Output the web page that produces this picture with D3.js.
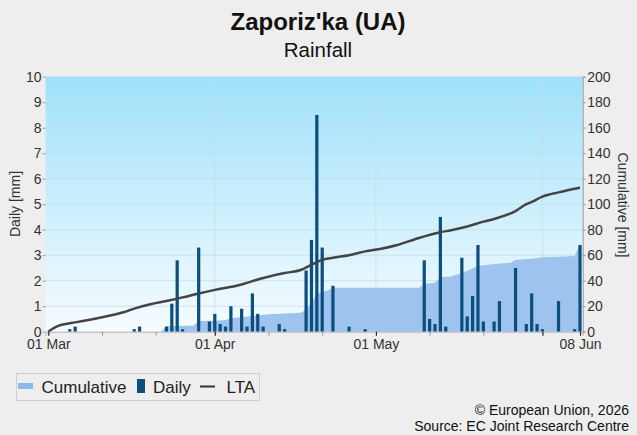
<!DOCTYPE html>
<html>
<head>
<meta charset="utf-8">
<script src="https://cdn.jsdelivr.net/npm/d3@7"></script>
<style>
  html, body { margin: 0; padding: 0; background: #eeeeee; }
  text { font-family: "Liberation Sans", Arial, sans-serif; }
</style>
</head>
<body>
<div id="chart"></div>
<script>
// daily rainfall [mm]
const dailyDates = [
  "2026-03-05", "2026-03-06", "2026-03-17", "2026-03-18", "2026-03-23", "2026-03-24",
  "2026-03-25", "2026-03-26", "2026-03-29", "2026-03-31", "2026-04-01", "2026-04-02",
  "2026-04-03", "2026-04-04", "2026-04-06", "2026-04-07", "2026-04-08", "2026-04-09",
  "2026-04-10", "2026-04-13", "2026-04-14", "2026-04-18", "2026-04-19", "2026-04-20",
  "2026-04-21", "2026-04-23", "2026-04-26", "2026-04-29", "2026-05-10", "2026-05-11",
  "2026-05-12", "2026-05-13", "2026-05-14", "2026-05-17", "2026-05-18", "2026-05-19",
  "2026-05-20", "2026-05-21", "2026-05-23", "2026-05-24", "2026-05-27", "2026-05-29",
  "2026-05-30", "2026-05-31", "2026-06-01", "2026-06-04", "2026-06-07", "2026-06-08"
];
const dailyValues = [
  0.1, 0.2, 0.1, 0.2, 0.2, 1.1,
  2.8, 0.1, 3.3, 0.4, 0.7, 0.3,
  0.2, 1.0, 0.9, 0.2, 1.5, 0.7,
  0.2, 0.3, 0.1, 2.4, 3.6, 8.5,
  3.3, 1.8, 0.2, 0.1, 2.8, 0.5,
  0.3, 4.5, 0.2, 2.9, 0.6, 1.4,
  3.4, 0.4, 0.4, 1.2, 2.5, 0.3,
  1.5, 0.3, 0.1, 1.2, 0.1, 3.4
];

// cumulative rainfall [mm], as drawn
const cumDates = [
  "2026-03-01", "2026-03-22", "2026-03-23", "2026-03-28", "2026-03-29", "2026-04-01",
  "2026-04-03", "2026-04-04", "2026-04-11", "2026-04-15", "2026-04-17", "2026-04-18",
  "2026-04-19", "2026-04-20", "2026-04-22", "2026-04-23", "2026-05-09", "2026-05-10",
  "2026-05-12", "2026-05-13", "2026-05-15", "2026-05-17", "2026-05-18", "2026-05-20",
  "2026-05-23", "2026-05-26", "2026-05-27", "2026-05-30", "2026-06-01", "2026-06-04",
  "2026-06-07", "2026-06-08"
];
const cumValues = [
  0, 0, 4.5, 4.7, 8.4, 8.6,
  9.2, 10.5, 13.6, 14.4, 14.9, 17.5,
  22, 30, 32.4, 34.5, 34.5, 37.4,
  38.4, 42.7, 43.2, 46, 47.8, 51.5,
  53.1, 54.1, 56.2, 57.3, 58.4, 58.8,
  59.4, 68.8
];

// long term average cumulative [mm]
const ltaDates = [
  "2026-03-01", "2026-03-02", "2026-03-03", "2026-03-04", "2026-03-06", "2026-03-11",
  "2026-03-15", "2026-03-17", "2026-03-20", "2026-03-23", "2026-03-26", "2026-03-29",
  "2026-04-01", "2026-04-06", "2026-04-08", "2026-04-14", "2026-04-17", "2026-04-19",
  "2026-04-21", "2026-04-23", "2026-04-26", "2026-04-29", "2026-05-02", "2026-05-05",
  "2026-05-09", "2026-05-13", "2026-05-15", "2026-05-18", "2026-05-21", "2026-05-23",
  "2026-05-27", "2026-05-29", "2026-05-30", "2026-06-01", "2026-06-04", "2026-06-08"
];
const ltaValues = [
  0, 2.8, 4.8, 5.8, 7.3, 11.4,
  15.2, 18.1, 21.5, 24.1, 26.9, 30,
  32.8, 37, 39.7, 46, 48.4, 52.5,
  56.3, 58, 60, 63, 65.1, 68,
  73.5, 78, 79.6, 82.5, 86.3, 88.4,
  94.6, 100, 101.8, 105.9, 109.3, 112.9
];

// axis ticks
const xLabelDates = ["2026-03-01", "2026-04-01", "2026-05-01", "2026-06-08"];
const xMajorTickDates = ["2026-03-01", "2026-04-01", "2026-05-01", "2026-06-01", "2026-06-08"];
const xMinorTickDates = ["2026-03-11", "2026-03-21", "2026-04-11", "2026-04-21", "2026-05-11", "2026-05-21"];
const xGridDates = ["2026-04-01", "2026-05-01", "2026-06-01"];
const dailyTicks = [0, 1, 2, 3, 4, 5, 6, 7, 8, 9, 10];
const cumTicks = [0, 20, 40, 60, 80, 100, 120, 140, 160, 180, 200];

const legendItems = ["Cumulative", "Daily", "LTA"];

const parse = d3.timeParse("%Y-%m-%d");
const fmt = d3.timeFormat("%d %b");

const width = 637, height = 435;
const plot = { left: 45.6, right: 582.7, top: 76.7, bottom: 331.7 };

const svg = d3.select("#chart").append("svg")
  .attr("width", width)
  .attr("height", height);

svg.append("rect")
  .attr("width", width).attr("height", height)
  .attr("fill", "#eeeeee");

const defs = svg.append("defs");
const grad = defs.append("linearGradient")
  .attr("id", "bg").attr("x1", 0).attr("y1", 0).attr("x2", 0).attr("y2", 1);
grad.append("stop").attr("offset", "0%").attr("stop-color", "#9fe1fb");
grad.append("stop").attr("offset", "100%").attr("stop-color", "#f6fcff");

// scales
const start = d3.timeHour.offset(parse("2026-03-01"), -12);
const end = d3.timeHour.offset(parse("2026-06-08"), 12);
const x = d3.scaleTime().domain([start, end]).range([plot.left, plot.right]);
const yDaily = d3.scaleLinear().domain([0, 10]).range([plot.bottom, plot.top]);
const yCum = d3.scaleLinear().domain([0, 200]).range([plot.bottom, plot.top]);
const dayW = x(parse("2026-03-02")) - x(parse("2026-03-01"));

// title
svg.append("text")
  .attr("x", 318).attr("y", 30)
  .attr("text-anchor", "middle")
  .attr("font-size", 24).attr("font-weight", "bold")
  .attr("fill", "#111")
  .text("Zaporiz'ka (UA)");
svg.append("text")
  .attr("x", 318).attr("y", 57)
  .attr("text-anchor", "middle")
  .attr("font-size", 20.5)
  .attr("fill", "#111")
  .text("Rainfall");

// plot background
svg.append("rect")
  .attr("x", plot.left).attr("y", plot.top)
  .attr("width", plot.right - plot.left).attr("height", plot.bottom - plot.top)
  .attr("fill", "url(#bg)");

// grid
const grid = svg.append("g").attr("class", "grid");
grid.selectAll("line.h")
  .data(dailyTicks.slice(1))
  .join("line")
  .attr("class", "h")
  .attr("x1", plot.left).attr("x2", plot.right)
  .attr("y1", d => yDaily(d)).attr("y2", d => yDaily(d))
  .attr("stroke", "#c9dce6").attr("stroke-opacity", 0.8).attr("stroke-width", 1);
grid.selectAll("line.v")
  .data(xGridDates)
  .join("line")
  .attr("class", "v")
  .attr("x1", d => x(parse(d))).attr("x2", d => x(parse(d)))
  .attr("y1", plot.top).attr("y2", plot.bottom)
  .attr("stroke", "#c9dce6").attr("stroke-opacity", 0.8).attr("stroke-width", 1);

// cumulative area
const cumData = cumDates.map((d, i) => ({ date: parse(d), value: cumValues[i] }));
svg.append("path")
  .datum(cumData)
  .attr("fill", "#9dc3ee")
  .attr("d", d3.area()
    .x(d => x(d.date))
    .y0(yCum(0))
    .y1(d => yCum(d.value)));

// daily bars
const dailyData = dailyDates.map((d, i) => ({ date: parse(d), value: dailyValues[i] }));
const barW = dayW * 0.6;
svg.append("g")
  .selectAll("rect")
  .data(dailyData)
  .join("rect")
  .attr("x", d => x(d.date) - barW / 2)
  .attr("y", d => yDaily(d.value))
  .attr("width", barW)
  .attr("height", d => yDaily(0) - yDaily(d.value))
  .attr("fill", "#0c4f7e");

// LTA line
const ltaData = ltaDates.map((d, i) => ({ date: parse(d), value: ltaValues[i] }));
svg.append("path")
  .datum(ltaData)
  .attr("fill", "none")
  .attr("stroke", "#444444")
  .attr("stroke-width", 2.5)
  .attr("stroke-linejoin", "round")
  .attr("d", d3.line()
    .x(d => x(d.date))
    .y(d => yCum(d.value))
    .curve(d3.curveMonotoneX));

// x axis
const gx = svg.append("g").attr("transform", `translate(0,${plot.bottom})`);
gx.call(d3.axisBottom(x).tickValues(xMinorTickDates.map(parse)).tickSize(4).tickFormat(""))
  .call(g => g.selectAll(".tick line").attr("stroke", "#9a9a9a"))
  .call(g => g.select(".domain").attr("stroke", "#b5b5b5"));
const gxMajor = svg.append("g").attr("transform", `translate(0,${plot.bottom})`);
gxMajor.call(d3.axisBottom(x).tickValues(xMajorTickDates.map(parse)).tickSize(4).tickFormat(""))
  .call(g => g.select(".domain").remove())
  .call(g => g.selectAll(".tick line").attr("stroke", "#222").attr("stroke-width", 1.2));
const gxLabels = svg.append("g").attr("transform", `translate(0,${plot.bottom})`);
gxLabels.call(d3.axisBottom(x).tickValues(xLabelDates.map(parse)).tickSize(0).tickPadding(7.5).tickFormat(fmt))
  .call(g => g.select(".domain").remove())
  .call(g => g.selectAll("text")
    .attr("font-size", 14)
    .attr("font-family", "Liberation Sans, Arial, sans-serif")
    .attr("fill", "#333"));

// left axis
const gyL = svg.append("g").attr("transform", `translate(${plot.left},0)`);
gyL.call(d3.axisLeft(yDaily).tickValues(dailyTicks).tickSize(3).tickPadding(1))
  .call(g => g.select(".domain").remove())
  .call(g => g.selectAll(".tick line").attr("stroke", "#9a9a9a"))
  .call(g => g.selectAll("text")
    .attr("font-size", 14)
    .attr("font-family", "Liberation Sans, Arial, sans-serif")
    .attr("fill", "#333"));

// right axis
const gyR = svg.append("g").attr("transform", `translate(${plot.right},0)`);
gyR.call(d3.axisRight(yCum).tickValues(cumTicks).tickSize(3).tickPadding(1.5))
  .call(g => g.select(".domain").attr("stroke", "#9a9a9a"))
  .call(g => g.selectAll(".tick line").attr("stroke", "#9a9a9a"))
  .call(g => g.selectAll("text")
    .attr("font-size", 14)
    .attr("font-family", "Liberation Sans, Arial, sans-serif")
    .attr("fill", "#333"));

// axis titles
svg.append("text")
  .attr("transform", "translate(20,204) rotate(-90)")
  .attr("text-anchor", "middle")
  .attr("font-size", 14).attr("fill", "#333")
  .text("Daily [mm]");
svg.append("text")
  .attr("transform", "translate(618,205) rotate(90)")
  .attr("text-anchor", "middle")
  .attr("font-size", 14).attr("fill", "#333")
  .text("Cumulative [mm]");

// legend
const legend = svg.append("g").attr("class", "legend");
legend.append("rect")
  .attr("x", 16.5).attr("y", 373.5)
  .attr("width", 243).attr("height", 27)
  .attr("fill", "#eeeeee").attr("stroke", "#cfcfcf");
legend.append("rect")
  .attr("x", 18).attr("y", 383).attr("width", 15).attr("height", 6)
  .attr("fill", "#8cb9e9");
legend.append("text")
  .attr("x", 41.5).attr("y", 392.5).attr("font-size", 17).attr("fill", "#222")
  .text(legendItems[0]);
legend.append("rect")
  .attr("x", 137).attr("y", 379).attr("width", 8).attr("height", 14)
  .attr("fill", "#0c4f7e");
legend.append("text")
  .attr("x", 153).attr("y", 392.5).attr("font-size", 17).attr("fill", "#222")
  .text(legendItems[1]);
legend.append("line")
  .attr("x1", 200).attr("x2", 215).attr("y1", 386.5).attr("y2", 386.5)
  .attr("stroke", "#333").attr("stroke-width", 2);
legend.append("text")
  .attr("x", 226.5).attr("y", 392.5).attr("font-size", 17).attr("fill", "#222")
  .text(legendItems[2]);

// footer
svg.append("text")
  .attr("x", 629).attr("y", 415)
  .attr("text-anchor", "end").attr("font-size", 14).attr("fill", "#111")
  .text("© European Union, 2026");
svg.append("text")
  .attr("x", 629).attr("y", 431)
  .attr("text-anchor", "end").attr("font-size", 14).attr("fill", "#111")
  .text("Source: EC Joint Research Centre");
</script>
</body>
</html>
